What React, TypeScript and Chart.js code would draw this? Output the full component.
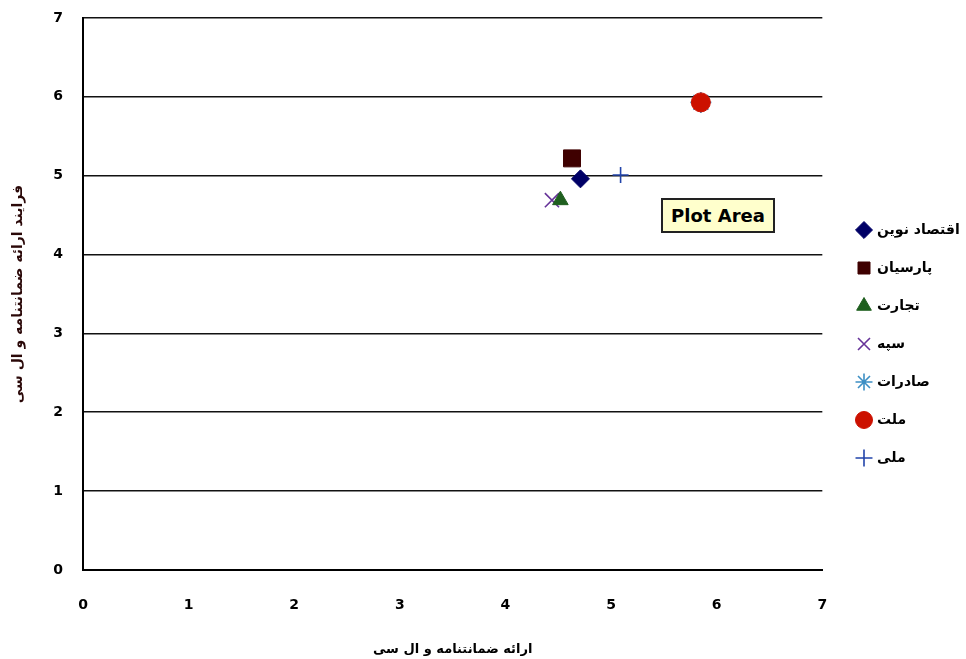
import React, { useEffect, useRef } from 'react';
import { Chart, registerables } from 'chart.js';

Chart.register(...registerables);

// ---- data ----
const bankNames = ['اقتصاد نوین', 'پارسیان', 'تجارت', 'سپه', 'صادرات', 'ملت', 'ملی'];
const xValues = [4.71, 4.63, 4.52, 4.44, 5.85, 5.85, 5.09];
const yValues = [4.96, 5.22, 4.69, 4.69, 5.93, 5.93, 5.01];
const xTickValues = [0, 1, 2, 3, 4, 5, 6, 7];
const yTickValues = [0, 1, 2, 3, 4, 5, 6, 7];
const xAxisTitle = 'ارائه ضمانتنامه و ال سی';
const yAxisTitle = 'فرایند ارائه ضمانتنامه و ال سی';
const noteText = 'Plot Area';

// ---- styles ----
const pointStyles = ['rectRot', 'rect', 'triangle', 'crossRot', 'star', 'circle', 'cross'];
const colors = ['#000066', '#3f0000', '#1f5f1f', '#663399', '#3d8fc4', '#cc1100', '#2244aa'];
const radii = [9, 12, 9, 10, 10.5, 9.5, 8];
const lineMarkers = ['crossRot', 'star', 'cross'];

const FONT = '"DejaVu Sans", Verdana, sans-serif';

const legendPlace = {
  id: 'legendPlace',
  afterLayout(chart: any) {
    const l = chart.legend;
    if (!l) return;
    l.left = 834;
    l.right = 966;
    l.top = 199;
    l.bottom = 659;
  },
};

export default function App() {
  const ref = useRef<HTMLCanvasElement | null>(null);

  useEffect(() => {
    if (!ref.current) return;
    const datasets = bankNames.map((name, i) => ({
      label: name,
      data: [{ x: xValues[i], y: yValues[i] }],
      pointStyle: pointStyles[i] as any,
      pointRadius: radii[i],
      pointHoverRadius: radii[i],
      backgroundColor: colors[i],
      borderColor: colors[i],
      borderWidth: lineMarkers.includes(pointStyles[i]) ? 1.6 : 1,
      order: name === 'ملت' ? -1 : 0,
    }));

    const chart = new Chart(ref.current, {
      type: 'scatter',
      data: { datasets },
      plugins: [legendPlace],
      options: {
        animation: false,
        responsive: true,
        maintainAspectRatio: false,
        layout: { padding: { top: 18, right: 8, left: 0, bottom: 0 } },
        plugins: {
          tooltip: { enabled: false },
          legend: {
            position: 'right',
            align: 'start',
            labels: {
              usePointStyle: true,
              boxWidth: 12,
              boxHeight: 12,
              padding: 24,
              color: '#000',
              font: { family: FONT, size: 14, weight: 'bold' },
              sort: (a: any, b: any) => a.datasetIndex - b.datasetIndex,
            },
          },
        },
        scales: {
          x: {
            type: 'linear',
            min: 0,
            max: 7,
            afterBuildTicks: (s: any) => {
              s.ticks = xTickValues.map((v) => ({ value: v }));
            },
            afterFit: (s: any) => {
              s.height = 89;
              s.paddingLeft = 0;
              s.paddingRight = 0;
            },
            grid: { display: false, drawTicks: false },
            border: { display: true, color: '#000', width: 2 },
            ticks: {
              padding: 27,
              color: '#000',
              font: { family: FONT, size: 14, weight: 'bold' },
            },
            title: {
              display: true,
              text: xAxisTitle,
              color: '#000',
              font: { family: FONT, size: 13, weight: 'bold' },
              padding: { top: 4, bottom: 2 },
            },
          },
          y: {
            type: 'linear',
            min: 0,
            max: 7,
            afterBuildTicks: (s: any) => {
              s.ticks = yTickValues.map((v) => ({ value: v }));
            },
            afterFit: (s: any) => {
              s.width = 83;
              s.paddingTop = 0;
              s.paddingBottom = 0;
            },
            grid: { color: '#111', lineWidth: 1.6, drawTicks: false },
            border: { display: true, color: '#000', width: 2 },
            ticks: {
              padding: 20,
              color: '#000',
              font: { family: FONT, size: 14, weight: 'bold' },
            },
            title: {
              display: true,
              text: yAxisTitle,
              color: '#2a0808',
              font: { family: FONT, size: 14, weight: 'bold' },
              padding: { top: 10, bottom: 4 },
            },
          },
        },
      },
    });
    return () => chart.destroy();
  }, []);

  return (
    <div style={{ position: 'absolute', left: 0, top: 0, width: 966, height: 659, background: '#fff' }}>
      <canvas ref={ref} />
      <div
        style={{
          position: 'absolute',
          left: 661,
          top: 198,
          width: 114,
          height: 35,
          boxSizing: 'border-box',
          border: '2px solid #222',
          background: '#ffffcc',
          fontFamily: FONT,
          fontWeight: 'bold',
          fontSize: 18,
          lineHeight: '31px',
          textAlign: 'center',
          color: '#000',
        }}
      >
        {noteText}
      </div>
    </div>
  );
}
